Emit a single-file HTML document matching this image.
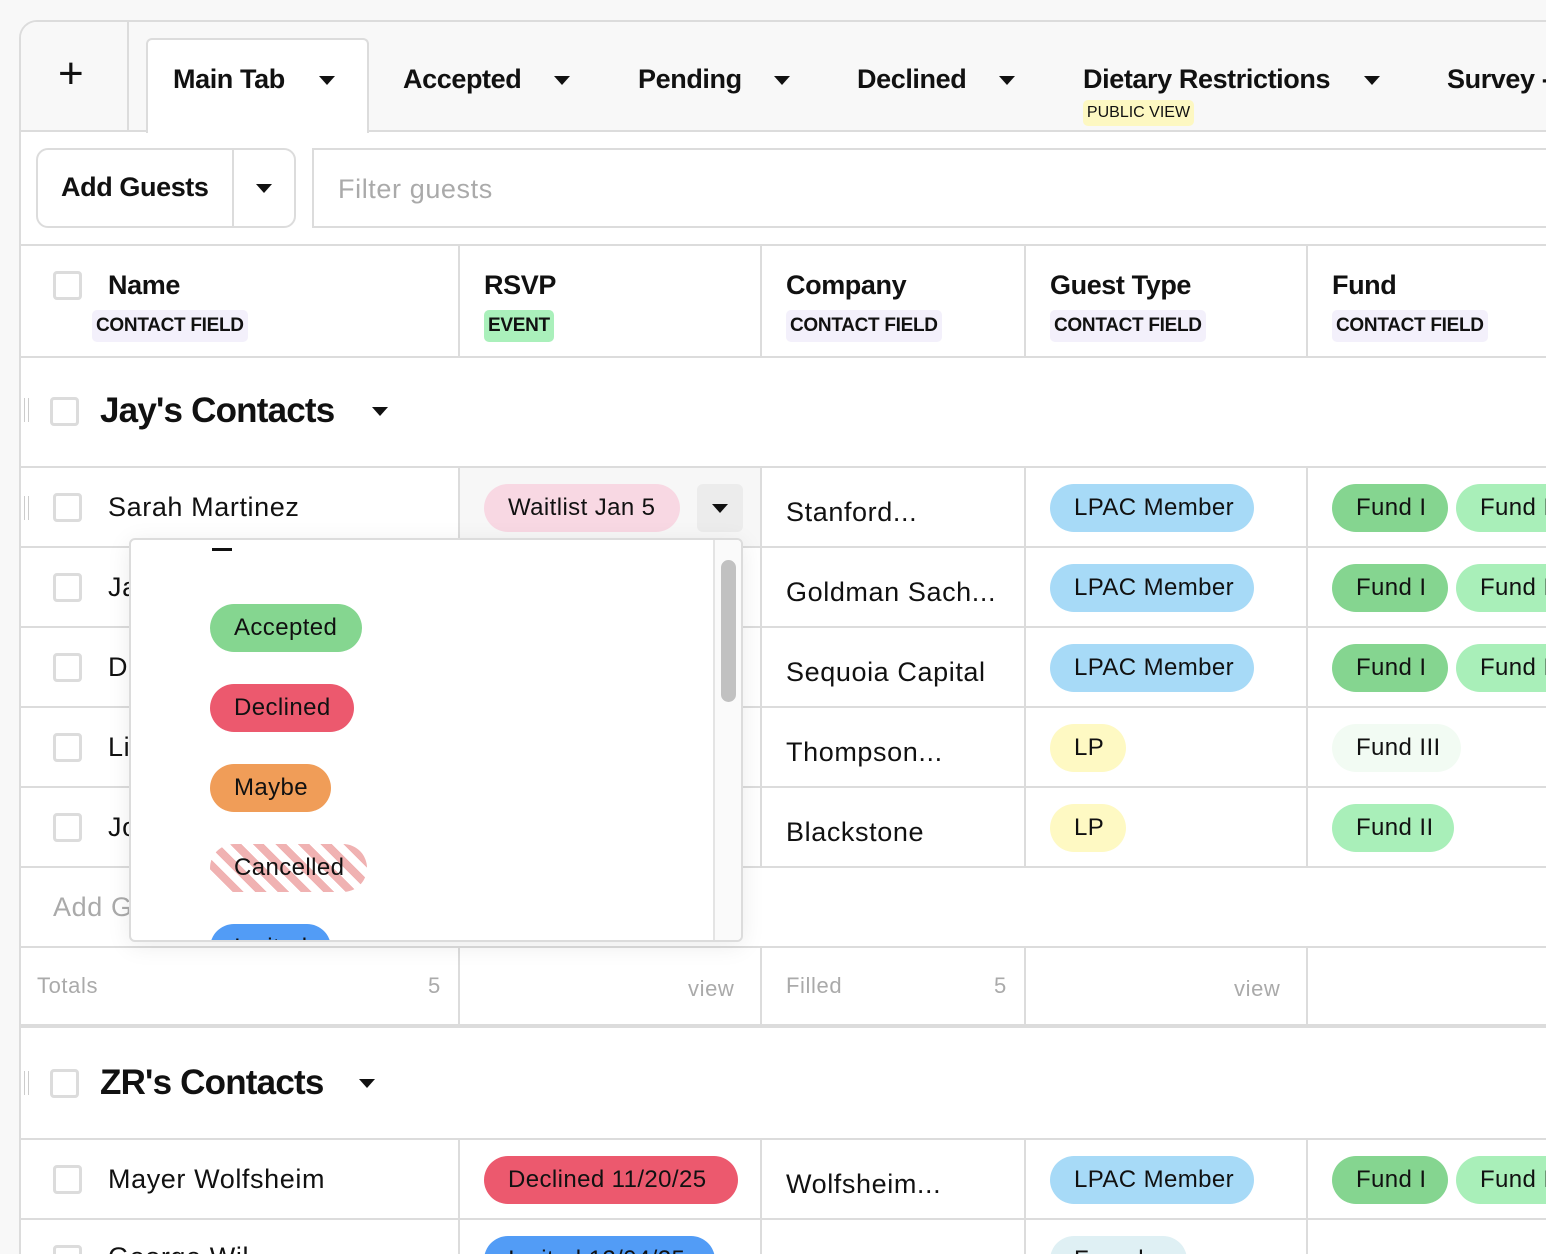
<!DOCTYPE html>
<html style="width:1546px;height:1254px;overflow:hidden"><head><meta charset="utf-8"><style>
*{box-sizing:border-box;margin:0;padding:0}
body{width:1546px;height:1254px;overflow:hidden;background:#f8f8f8;font-family:"Liberation Sans",Arial,sans-serif;color:#111;position:relative}
.a{position:absolute}
.hl{position:absolute;height:2px;background:#dcdcdc}
.vl{position:absolute;width:2px;background:#dcdcdc}
.cb{position:absolute;width:29px;height:29px;border:3px solid #dcdcdc;border-radius:4px;background:#fff}
.pill{position:absolute;height:48px;border-radius:24px;font-size:24px;line-height:48px;padding:0 24px;white-space:nowrap;overflow:hidden;letter-spacing:.4px}
.txt{position:absolute;font-size:27px;white-space:nowrap;letter-spacing:.6px}
.b{font-weight:bold;letter-spacing:-0.4px}
.tag{position:absolute;height:32px;line-height:32px;font-size:19px;font-weight:bold;padding:0 4px;border-radius:5px;background:#f3f0fb;letter-spacing:-0.3px}
.tri{position:absolute;width:0;height:0;border-left:8px solid transparent;border-right:8px solid transparent;border-top:9px solid #111}
</style></head><body>
<div class="a" style="left:0;top:0;width:1546px;height:1254px;overflow:hidden">
<div class="a" style="left:19px;top:20px;width:1560px;height:1260px;background:#fff;border:2px solid #dcdcdc;border-radius:18px 0 0 0"></div>
<div class="a" style="left:21px;top:22px;width:1530px;height:108px;background:#f8f8f8;border-radius:16px 0 0 0"></div>
<div class="hl" style="left:21px;top:130px;width:1530px"></div>
<div class="vl" style="left:127px;top:22px;height:108px"></div>
<div class="txt" style="left:58px;top:52px;font-size:44px;line-height:44px">+</div>
<div class="a" style="left:146px;top:38px;width:223px;height:95px;background:#fff;border:2px solid #dcdcdc;border-bottom:none;border-radius:6px 6px 0 0"></div>
<div class="txt b" style="left:173px;top:64px">Main Tab</div><div class="tri" style="left:319px;top:76px"></div>
<div class="txt b" style="left:403px;top:64px">Accepted</div><div class="tri" style="left:554px;top:76px"></div>
<div class="txt b" style="left:638px;top:64px">Pending</div><div class="tri" style="left:774px;top:76px"></div>
<div class="txt b" style="left:857px;top:64px">Declined</div><div class="tri" style="left:999px;top:76px"></div>
<div class="txt b" style="left:1083px;top:64px">Dietary Restrictions</div><div class="tri" style="left:1364px;top:76px"></div>
<div class="a" style="left:1083px;top:100px;width:111px;height:26px;background:#fdf8c2;border-radius:5px;font-size:16px;line-height:26px;text-align:center">PUBLIC VIEW</div>
<div class="txt b" style="left:1447px;top:64px">Survey -</div>
<div class="a" style="left:36px;top:148px;width:260px;height:80px;border:2px solid #dcdcdc;border-radius:12px;background:#fff"></div>
<div class="vl" style="left:232px;top:150px;height:76px"></div>
<div class="txt b" style="left:61px;top:172px">Add Guests</div><div class="tri" style="left:256px;top:184px"></div>
<div class="a" style="left:312px;top:148px;width:1300px;height:80px;border:2px solid #dcdcdc;background:#fff"></div>
<div class="txt" style="left:338px;top:174px;color:#aaa">Filter guests</div>
<div class="hl" style="left:21px;top:244px;width:1530px"></div>
<div class="hl" style="left:21px;top:356px;width:1530px"></div>
<div class="cb" style="left:53px;top:271px"></div>
<div class="txt b" style="left:108px;top:270px">Name</div><div class="tag" style="left:92px;top:310px">CONTACT FIELD</div>
<div class="txt b" style="left:484px;top:270px">RSVP</div><div class="tag" style="left:484px;top:310px;background:#aaf0bb">EVENT</div>
<div class="txt b" style="left:786px;top:270px">Company</div><div class="tag" style="left:786px;top:310px">CONTACT FIELD</div>
<div class="txt b" style="left:1050px;top:270px">Guest Type</div><div class="tag" style="left:1050px;top:310px">CONTACT FIELD</div>
<div class="txt b" style="left:1332px;top:270px">Fund</div><div class="tag" style="left:1332px;top:310px">CONTACT FIELD</div>
<div class="vl" style="left:458px;top:246px;height:110px"></div><div class="vl" style="left:760px;top:246px;height:110px"></div><div class="vl" style="left:1024px;top:246px;height:110px"></div><div class="vl" style="left:1306px;top:246px;height:110px"></div>
<div class="vl" style="left:458px;top:468px;height:400px"></div><div class="vl" style="left:760px;top:468px;height:400px"></div><div class="vl" style="left:1024px;top:468px;height:400px"></div><div class="vl" style="left:1306px;top:468px;height:400px"></div>
<div class="vl" style="left:458px;top:948px;height:78px"></div><div class="vl" style="left:760px;top:948px;height:78px"></div><div class="vl" style="left:1024px;top:948px;height:78px"></div><div class="vl" style="left:1306px;top:948px;height:78px"></div>
<div class="vl" style="left:458px;top:1140px;height:120px"></div><div class="vl" style="left:760px;top:1140px;height:120px"></div><div class="vl" style="left:1024px;top:1140px;height:120px"></div><div class="vl" style="left:1306px;top:1140px;height:120px"></div>
<div class="a" style="left:24px;top:398px;width:5px;height:24px;border-left:1.5px solid #ccc;border-right:1.5px solid #ccc"></div>
<div class="cb" style="left:50px;top:397px"></div>
<div class="txt b" style="left:100px;top:391px;font-size:35px;letter-spacing:-0.8px">Jay's Contacts</div><div class="tri" style="left:372px;top:407px"></div>
<div class="hl" style="left:21px;top:466px;width:1530px"></div>
<div class="hl" style="left:21px;top:546px;width:1530px"></div>
<div class="hl" style="left:21px;top:626px;width:1530px"></div>
<div class="hl" style="left:21px;top:706px;width:1530px"></div>
<div class="hl" style="left:21px;top:786px;width:1530px"></div>
<div class="hl" style="left:21px;top:866px;width:1530px"></div>
<div class="hl" style="left:21px;top:946px;width:1530px"></div>
<div class="a" style="left:460px;top:468px;width:300px;height:78px;background:#f7f7f7"></div>
<div class="a" style="left:24px;top:496px;width:5px;height:24px;border-left:1.5px solid #ccc;border-right:1.5px solid #ccc"></div>
<div class="cb" style="left:53px;top:493px"></div><div class="txt" style="left:108px;top:492px">Sarah Martinez</div>
<div class="pill" style="left:484px;top:484px;width:196px;background:#f8d8e3">Waitlist Jan 5</div>
<div class="a" style="left:697px;top:484px;width:46px;height:48px;background:#ececec;border-radius:6px"></div><div class="tri" style="left:712px;top:504px"></div>
<div class="txt" style="left:786px;top:497px">Stanford...</div>
<div class="pill" style="left:1050px;top:484px;width:204px;background:#a7daf7">LPAC Member</div>
<div class="pill" style="left:1332px;top:484px;width:116px;background:#85d590">Fund I</div>
<div class="pill" style="left:1456px;top:484px;width:120px;background:#a9efb9">Fund II</div>
<div class="cb" style="left:53px;top:573px"></div><div class="txt" style="left:108px;top:572px">Ja</div>
<div class="cb" style="left:53px;top:653px"></div><div class="txt" style="left:108px;top:652px">D</div>
<div class="cb" style="left:53px;top:733px"></div><div class="txt" style="left:108px;top:732px">Li</div>
<div class="cb" style="left:53px;top:813px"></div><div class="txt" style="left:108px;top:812px">Jo</div>
<div class="txt" style="left:786px;top:577px">Goldman Sach...</div>
<div class="txt" style="left:786px;top:657px">Sequoia Capital</div>
<div class="txt" style="left:786px;top:737px">Thompson...</div>
<div class="txt" style="left:786px;top:817px">Blackstone</div>
<div class="pill" style="left:1050px;top:564px;width:204px;background:#a7daf7">LPAC Member</div>
<div class="pill" style="left:1050px;top:644px;width:204px;background:#a7daf7">LPAC Member</div>
<div class="pill" style="left:1050px;top:724px;width:76px;background:#fef9c3">LP</div>
<div class="pill" style="left:1050px;top:804px;width:76px;background:#fef9c3">LP</div>
<div class="pill" style="left:1332px;top:564px;width:116px;background:#85d590">Fund I</div>
<div class="pill" style="left:1456px;top:564px;width:120px;background:#a9efb9">Fund II</div>
<div class="pill" style="left:1332px;top:644px;width:116px;background:#85d590">Fund I</div>
<div class="pill" style="left:1456px;top:644px;width:120px;background:#a9efb9">Fund II</div>
<div class="pill" style="left:1332px;top:724px;width:129px;background:#f2fbf3">Fund III</div>
<div class="pill" style="left:1332px;top:804px;width:122px;background:#a9efb9">Fund II</div>
<div class="txt" style="left:53px;top:892px;color:#aaa">Add G</div>
<div class="txt" style="left:37px;top:973px;font-size:22px;color:#aaa">Totals</div>
<div class="txt" style="left:428px;top:973px;font-size:22px;color:#aaa">5</div>
<div class="txt" style="left:688px;top:976px;font-size:22px;color:#aaa">view</div>
<div class="txt" style="left:786px;top:973px;font-size:22px;color:#aaa">Filled</div>
<div class="txt" style="left:994px;top:973px;font-size:22px;color:#aaa">5</div>
<div class="txt" style="left:1234px;top:976px;font-size:22px;color:#aaa">view</div>
<div class="a" style="left:21px;top:1024px;width:1530px;height:4px;background:#dcdcdc"></div>
<div class="a" style="left:24px;top:1071px;width:5px;height:24px;border-left:1.5px solid #ccc;border-right:1.5px solid #ccc"></div>
<div class="cb" style="left:50px;top:1069px"></div>
<div class="txt b" style="left:100px;top:1063px;font-size:35px;letter-spacing:-0.8px">ZR's Contacts</div><div class="tri" style="left:359px;top:1079px"></div>
<div class="hl" style="left:21px;top:1138px;width:1530px"></div>
<div class="hl" style="left:21px;top:1218px;width:1530px"></div>
<div class="cb" style="left:53px;top:1165px"></div><div class="txt" style="left:108px;top:1164px">Mayer Wolfsheim</div>
<div class="pill" style="left:484px;top:1156px;width:254px;background:#ec596e">Declined 11/20/25</div>
<div class="txt" style="left:786px;top:1169px">Wolfsheim...</div>
<div class="pill" style="left:1050px;top:1156px;width:204px;background:#a7daf7">LPAC Member</div>
<div class="pill" style="left:1332px;top:1156px;width:116px;background:#85d590">Fund I</div>
<div class="pill" style="left:1456px;top:1156px;width:120px;background:#a9efb9">Fund II</div>
<div class="cb" style="left:53px;top:1245px"></div><div class="txt" style="left:108px;top:1242px">George Wil</div>
<div class="pill" style="left:484px;top:1236px;width:231px;background:#529cf6">Invited 12/04/25</div>
<div class="pill" style="left:1050px;top:1236px;width:137px;background:#dff0f4">Founder</div>
<div class="a" style="left:129px;top:538px;width:614px;height:404px;background:#fff;border:2px solid #dcdcdc;border-radius:6px;box-shadow:0 4px 24px rgba(0,0,0,.08);overflow:hidden">
 <div class="a" style="left:81px;top:8px;width:20px;height:3px;background:#111"></div>
 <div class="pill" style="left:79px;top:64px;width:152px;background:#85d690">Accepted</div>
 <div class="pill" style="left:79px;top:144px;width:144px;background:#ec596e">Declined</div>
 <div class="pill" style="left:79px;top:224px;width:121px;background:#f09d58">Maybe</div>
 <div class="pill" style="left:79px;top:304px;width:157px;background:repeating-linear-gradient(45deg,#f0b2b2 0 8px,#fff 8px 16px)">Cancelled</div>
 <div class="pill" style="left:79px;top:384px;width:121px;background:#529cf6">Invited</div>
 <div class="a" style="left:582px;top:0;width:30px;height:404px;background:#fafafa;border-left:2px solid #e4e4e4"></div>
 <div class="a" style="left:590px;top:20px;width:15px;height:142px;background:#c1c1c1;border-radius:8px"></div>
</div>
</div>
</body></html>
